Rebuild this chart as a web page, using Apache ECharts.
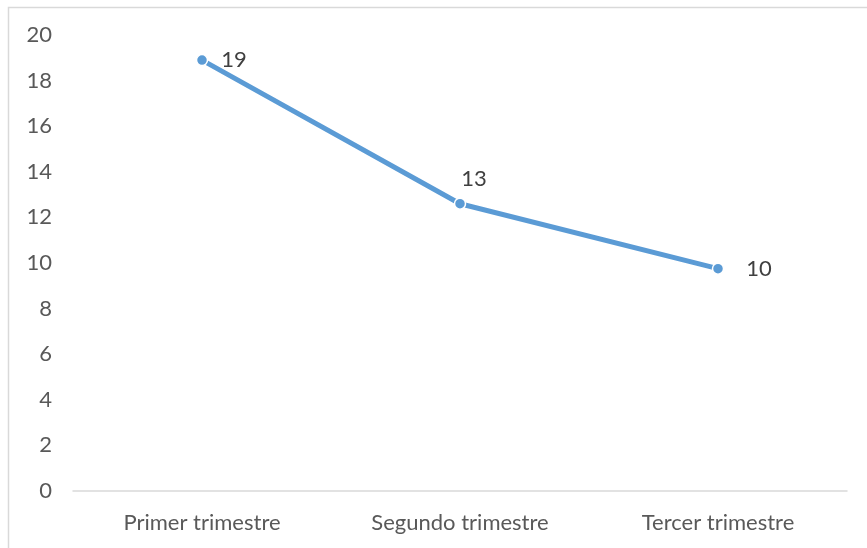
<!DOCTYPE html>
<html>
<head>
<meta charset="utf-8">
<script src="https://cdn.jsdelivr.net/npm/echarts@6/dist/echarts.min.js"></script>
<style>
html,body{margin:0;padding:0;background:#fff;}
#chart{width:867px;height:548px;}
</style>
</head>
<body>
<div id="chart"></div>
<script>
const categories = ['Primer trimestre', 'Segundo trimestre', 'Tercer trimestre'];
const values = [18.9, 12.6, 9.75];
const yTicks = { min: 0, max: 20, interval: 2 };

const chart = echarts.init(document.getElementById('chart'));
const font = 'Lato, "Open Sans", sans-serif';
chart.setOption({
  animation: false,
  backgroundColor: '#fff',
  graphic: [{
    type: 'rect',
    shape: { x: 8.5, y: 7.5, width: 900, height: 600 },
    style: { fill: 'none', stroke: '#D9D9D9', lineWidth: 1.5 },
    silent: true
  }],
  grid: { left: 73, right: 20, top: 35, bottom: 57, containLabel: false },
  xAxis: {
    type: 'category',
    data: categories,
    boundaryGap: true,
    axisLine: { lineStyle: { color: '#D9D9D9', width: 1.5 } },
    axisTick: { show: false },
    axisLabel: { color: '#595959', fontFamily: font, fontSize: 22, margin: 21 }
  },
  yAxis: {
    type: 'value',
    min: yTicks.min, max: yTicks.max, interval: yTicks.interval,
    axisLine: { show: false },
    axisTick: { show: false },
    splitLine: { show: false },
    axisLabel: { color: '#595959', fontFamily: font, fontSize: 22, margin: 21 }
  },
  series: [{
    type: 'line',
    symbol: 'circle',
    symbolSize: 11,
    lineStyle: { color: '#5B9BD5', width: 5 },
    itemStyle: { color: '#5B9BD5', borderColor: '#fff', borderWidth: 1.5 },
    label: {
      show: true,
      color: '#404040',
      fontFamily: font,
      fontSize: 22,
      formatter: p => Math.round(p.value),
      position: 'right',
      distance: 13
    },
    data: values.map((v, i) => ({
      value: v,
      label: i === 1 ? { position: 'top', distance: 8, offset: [14, 0] } : (i === 2 ? { distance: 22 } : {})
    }))
  }]
});
</script>
</body>
</html>
